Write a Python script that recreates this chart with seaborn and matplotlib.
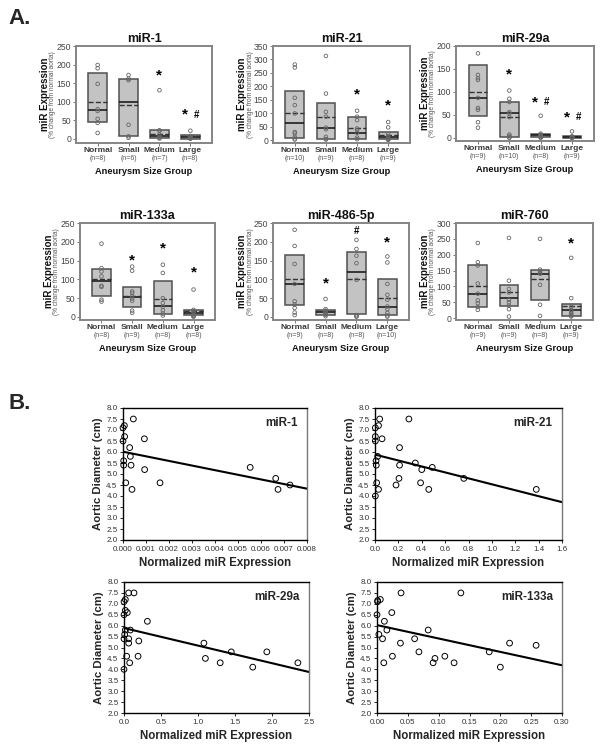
import numpy as np
import pandas as pd
import matplotlib
matplotlib.use("Agg")
import matplotlib.pyplot as plt
import matplotlib.transforms as mtransforms
import seaborn as sns

sns.set_style("ticks")
plt.rcParams["font.family"] = ["Liberation Sans", "DejaVu Sans"]

# ---------------- Panel A data ----------------
groups = ["Normal", "Small", "Medium", "Large"]

mir1_title = "miR-1"
mir1_points = [[199, 190, 148, 80, 75, 54, 43, 16],
               [172, 162, 158, 38, 7, 3],
               [131, 23, 22, 12, 6, 3, 1],
               [22, 8, 6, 4, 3, 2, 1, 1]]
mir1_q1 = [46, 7, 2, 1]
mir1_med = [77, 98, 7, 4]
mir1_q3 = [177, 161, 24, 10]
mir1_mean = [100, 90, 13, 7]
mir1_n = [8, 6, 7, 8]
mir1_marks = ["", "", "*", "*#"]
mir1_mark_y = [0, 0, 172, 65]
mir1_yticks = [0, 50, 100, 150, 200, 250]

mir21_title = "miR-21"
mir21_points = [[281, 270, 157, 130, 99, 30, 25, 12, 6, 2],
                [313, 173, 105, 87, 46, 40, 12, 4, 2],
                [109, 87, 74, 43, 37, 27, 9, 3],
                [67, 47, 22, 15, 10, 5, 3, 2, 1]]
mir21_q1 = [6, 5, 4, 5]
mir21_med = [62, 46, 27, 12]
mir21_q3 = [183, 139, 87, 30]
mir21_mean = [99, 87, 43, 19]
mir21_n = [10, 9, 8, 9]
mir21_marks = ["", "", "*", "*"]
mir21_mark_y = [0, 0, 171, 130]
mir21_yticks = [0, 50, 100, 150, 200, 250, 300, 350]

mir29a_title = "miR-29a"
mir29a_points = [[184, 137, 130, 126, 87, 65, 61, 34, 22],
                 [103, 85, 78, 56, 53, 45, 7, 4, 1, 0],
                 [48, 9, 7, 5, 4, 2, 1, 0],
                 [14, 3, 2, 2, 1, 1, 0, 0, 0]]
mir29a_q1 = [48, 2, 1, 0]
mir29a_med = [87, 54, 5, 1]
mir29a_q3 = [159, 79, 9, 3]
mir29a_mean = [100, 45, 7, 2]
mir29a_n = [9, 10, 8, 9]
mir29a_marks = ["", "*", "*#", "*#"]
mir29a_mark_y = [0, 137, 77, 45]
mir29a_yticks = [0, 50, 100, 150, 200]

mir133a_title = "miR-133a"
mir133a_points = [[195, 130, 121, 108, 83, 80, 46, 41],
                  [134, 123, 68, 64, 55, 49, 43, 17, 11],
                  [139, 117, 50, 37, 27, 18, 9, 4],
                  [73, 19, 15, 11, 6, 4, 2, 1]]
mir133a_q1 = [55, 27, 8, 4]
mir133a_med = [96, 53, 28, 11]
mir133a_q3 = [127, 81, 97, 19]
mir133a_mean = [101, 55, 47, 16]
mir133a_n = [8, 9, 8, 8]
mir133a_marks = ["", "*", "*", "*"]
mir133a_mark_y = [0, 150, 181, 119]
mir133a_yticks = [0, 50, 100, 150, 200, 250]

mir486_title = "miR-486-5p"
mir486_points = [[232, 189, 141, 88, 42, 33, 24, 12, 5],
                 [48, 21, 17, 14, 11, 8, 6, 2],
                 [205, 181, 163, 143, 99, 5, 2, 1],
                 [161, 145, 88, 59, 46, 28, 21, 11, 4, 1]]
mir486_q1 = [31, 5, 8, 4]
mir486_med = [88, 12, 121, 27]
mir486_q3 = [164, 19, 174, 102]
mir486_mean = [101, 15, 101, 50]
mir486_n = [9, 8, 8, 10]
mir486_marks = ["", "*", "#", "*"]
mir486_mark_y = [0, 88, 228, 198]
mir486_yticks = [0, 50, 100, 150, 200, 250]

mir760_title = "miR-760"
mir760_points = [[237, 176, 166, 109, 77, 56, 47, 35, 26],
                 [253, 118, 92, 81, 58, 50, 39, 28, 5],
                 [250, 153, 148, 142, 140, 105, 42, 7],
                 [190, 63, 35, 26, 21, 16, 11, 8, 5]]
mir760_q1 = [35, 37, 58, 8]
mir760_med = [77, 63, 140, 24]
mir760_q3 = [169, 103, 151, 45]
mir760_mean = [100, 82, 123, 37]
mir760_n = [9, 9, 8, 9]
mir760_marks = ["", "", "", "*"]
mir760_mark_y = [0, 0, 0, 237]
mir760_yticks = [0, 50, 100, 150, 200, 250, 300]

# ---------------- Panel B data ----------------
b1_label = "miR-1"
b1_x = [0.00006, 0.0, 0.00045, 0.00007, 0.0, 0.00093, 0.00029, 0.00032, 0.00003,
        0.00003, 0.00035, 0.00094, 0.00012, 0.00039, 0.00161, 0.00553, 0.00664,
        0.00674, 0.00726]
b1_y = [7.2, 7.1, 7.5, 6.7, 6.5, 6.6, 6.2, 5.8, 5.6, 5.4, 5.4, 5.2, 4.6, 4.3, 4.6,
        5.3, 4.8, 4.3, 4.5]
b1_xticks = [0.000, 0.001, 0.002, 0.003, 0.004, 0.005, 0.006, 0.007, 0.008]

b21_label = "miR-21"
b21_x = [0.04, 0.29, 0.03, 0.003, 0.003, 0.06, 0.003, 0.21, 0.023, 0.009, 0.011,
         0.21, 0.345, 0.40, 0.49, 0.205, 0.76, 0.014, 0.39, 0.18, 0.03, 0.46, 1.38,
         0.003]
b21_y = [7.5, 7.5, 7.2, 7.1, 6.7, 6.6, 6.5, 6.2, 5.8, 5.6, 5.4, 5.4, 5.5, 5.2, 5.3,
         4.8, 4.8, 4.6, 4.6, 4.5, 4.3, 4.3, 4.3, 4.0]
b21_xticks = [0.0, 0.2, 0.4, 0.6, 0.8, 1.0, 1.2, 1.4, 1.6]

b29_label = "miR-29a"
b29_x = [0.063, 0.135, 0.018, 0.0, 0.018, 0.045, 0.0, 0.316, 0.018, 0.086, 0.009,
         0.0, 0.063, 0.063, 0.20, 1.08, 0.036, 0.19, 1.10, 0.077, 1.30, 1.45, 1.74,
         1.93, 2.35, 0.0]
b29_y = [7.5, 7.5, 7.2, 7.1, 6.7, 6.6, 6.5, 6.2, 5.8, 5.8, 5.6, 5.4, 5.4, 5.2, 5.3,
         5.2, 4.6, 4.6, 4.5, 4.3, 4.3, 4.8, 4.1, 4.8, 4.3, 4.0]
b29_xticks = [0.0, 0.5, 1.0, 1.5, 2.0, 2.5]

b133_label = "miR-133a"
b133_x = [0.039, 0.136, 0.0054, 0.001, 0.001, 0.024, 0.0, 0.012, 0.016, 0.083,
          0.003, 0.009, 0.061, 0.038, 0.215, 0.258, 0.068, 0.182, 0.025, 0.11,
          0.094, 0.011, 0.091, 0.125, 0.20]
b133_y = [7.5, 7.5, 7.2, 7.15, 7.1, 6.6, 6.5, 6.2, 5.8, 5.8, 5.6, 5.4, 5.4, 5.2, 5.2,
          5.1, 4.8, 4.8, 4.6, 4.6, 4.5, 4.3, 4.3, 4.3, 4.1]
b133_xticks = [0.00, 0.05, 0.10, 0.15, 0.20, 0.25, 0.30]

B_YTICKS = [2.0, 2.5, 3.0, 3.5, 4.0, 4.5, 5.0, 5.5, 6.0, 6.5, 7.0, 7.5, 8.0]

# ---------------- Figure ----------------
W, H = 601, 750
fig = plt.figure(figsize=(W / 100, H / 100), dpi=100)


def px_axes(x0, x1, y0, y1):
    return fig.add_axes([x0 / W, 1 - y1 / H, (x1 - x0) / W, (y1 - y0) / H])


FRAME = "#858585"
TXT = "#3a3a3a"


def box_panel(ax, title, pts, q1, med, q3, mean, ns, marks, mark_y, yticks, ylim):
    stats = [dict(med=m, q1=a, q3=b, whislo=a, whishi=b, mean=mu, fliers=[])
             for a, m, b, mu in zip(q1, med, q3, mean)]
    ax.bxp(stats, positions=range(len(groups)), widths=0.6, patch_artist=True,
           showmeans=True, meanline=True, showcaps=False, manage_ticks=False,
           boxprops=dict(facecolor="#c3c3c3", edgecolor="#505050", linewidth=1.1),
           medianprops=dict(color="#111111", linewidth=1.1),
           meanprops=dict(color="#333333", linestyle="--", linewidth=1.0),
           whiskerprops=dict(linewidth=0))
    df = pd.DataFrame([(g, v) for g, vals in zip(groups, pts) for v in vals],
                      columns=["group", "value"])
    sns.stripplot(data=df, x="group", y="value", order=groups, jitter=False, ax=ax,
                  size=2.6, color="#666666", facecolor="none", edgecolor="#666666",
                  linewidth=0.6, zorder=5)
    ax.set_xlim(-0.7, 3.7)
    ax.set_ylim(*ylim)
    ax.set_yticks(yticks)
    ax.set_xticks(range(len(groups)))
    ax.set_xticklabels([])
    ax.set_xlabel("")
    ax.set_ylabel("")
    for s in ax.spines.values():
        s.set_visible(True)
        s.set_color(FRAME)
        s.set_linewidth(1.4)
    ax.tick_params(axis="both", length=2, width=0.7, color="#777777",
                   labelsize=6.2, labelcolor="#444444", pad=1.5)
    ax.set_title(title, fontsize=9, fontweight="bold", pad=3, color="#111111")
    trans = mtransforms.blended_transform_factory(ax.transData, ax.transAxes)
    hpx = ax.get_position().height * H
    wpx = ax.get_position().width * W
    for i, (g, n) in enumerate(zip(groups, ns)):
        ax.text(i, -7.5 / hpx, g, transform=trans, ha="center", va="center",
                fontsize=6.0, fontweight="bold", color=TXT)
        ax.text(i, -15.5 / hpx, f"(n={n})", transform=trans, ha="center",
                va="center", fontsize=5.0, color="#555555")
    ax.text(0.5, -28 / hpx, "Aneurysm Size Group", transform=ax.transAxes,
            ha="center", va="center", fontsize=6.7, fontweight="bold", color="#111111")
    ax.text(-31 / wpx, 0.5, "miR Expression", transform=ax.transAxes, rotation=90,
            ha="center", va="center", fontsize=7.0, fontweight="bold", color="#111111")
    ax.text(-23 / wpx, 0.5, "(% change from normal aorta)", transform=ax.transAxes,
            rotation=90, ha="center", va="center", fontsize=4.7, color="#555555")
    for i, (mk, my) in enumerate(zip(marks, mark_y)):
        if "*" in mk:
            dx = -0.17 if "#" in mk else 0.0
            ax.text(i + dx, my, "*", ha="center", va="center", fontsize=11,
                    fontweight="bold", color="black")
        if "#" in mk:
            dx = 0.2 if "*" in mk else 0.0
            ax.text(i + dx, my, "#", ha="center", va="center", fontsize=7,
                    fontweight="bold", color="black")


a_specs = [
    ((76, 212, 46, 143), mir1_title, mir1_points, mir1_q1, mir1_med, mir1_q3, mir1_mean,
     mir1_n, mir1_marks, mir1_mark_y, mir1_yticks, (-11, 250)),
    ((273, 410, 46, 143), mir21_title, mir21_points, mir21_q1, mir21_med, mir21_q3,
     mir21_mean, mir21_n, mir21_marks, mir21_mark_y, mir21_yticks, (-11, 350)),
    ((456, 594, 46, 141), mir29a_title, mir29a_points, mir29a_q1, mir29a_med, mir29a_q3,
     mir29a_mean, mir29a_n, mir29a_marks, mir29a_mark_y, mir29a_yticks, (-7, 200)),
    ((80, 215, 223, 320), mir133a_title, mir133a_points, mir133a_q1, mir133a_med,
     mir133a_q3, mir133a_mean, mir133a_n, mir133a_marks, mir133a_mark_y,
     mir133a_yticks, (-8, 250)),
    ((273, 409, 223, 320), mir486_title, mir486_points, mir486_q1, mir486_med,
     mir486_q3, mir486_mean, mir486_n, mir486_marks, mir486_mark_y, mir486_yticks,
     (-8, 250)),
    ((456, 593, 223, 320), mir760_title, mir760_points, mir760_q1, mir760_med,
     mir760_q3, mir760_mean, mir760_n, mir760_marks, mir760_mark_y, mir760_yticks,
     (-6, 300)),
]

for spec in a_specs:
    ax = px_axes(*spec[0])
    box_panel(ax, *spec[1:])


def scatter_panel(ax, x, y, label, xticks, fmt):
    xlim = (xticks[0], xticks[-1])
    ax.set_xlim(*xlim)
    ax.set_ylim(2.0, 8.0)
    sns.regplot(x=np.array(x), y=np.array(y), ax=ax, ci=None, truncate=False,
                scatter_kws=dict(s=17, facecolors="none", edgecolors="black",
                                 linewidths=0.7, alpha=1, clip_on=False, zorder=4),
                line_kws=dict(color="black", linewidth=1.5))
    ax.set_xlim(*xlim)
    ax.set_ylim(2.0, 8.0)
    ax.set_xticks(xticks)
    ax.set_xticklabels([fmt.format(v) for v in xticks])
    ax.set_yticks(B_YTICKS)
    ax.set_yticklabels([f"{v:.1f}" for v in B_YTICKS])
    for s in ax.spines.values():
        s.set_visible(True)
        s.set_color("black")
        s.set_linewidth(1.0)
    ax.spines["right"].set_color("#777777")
    ax.tick_params(axis="both", length=2.5, width=0.7, labelsize=5.8,
                   labelcolor="#333333", pad=1.5)
    ax.set_xlabel("Normalized miR Expression", fontsize=8.3, fontweight="bold",
                  labelpad=3)
    ax.set_ylabel("Aortic Diameter (cm)", fontsize=8.2, fontweight="bold", labelpad=2)
    ax.text(0.95, 0.885, label, transform=ax.transAxes, ha="right", va="center",
            fontsize=8.4, fontweight="bold")


b_specs = [
    ((123, 307, 408, 540), b1_x, b1_y, b1_label, b1_xticks, "{:.3f}"),
    ((375, 562, 408, 540), b21_x, b21_y, b21_label, b21_xticks, "{:.1f}"),
    ((124, 309, 582, 713), b29_x, b29_y, b29_label, b29_xticks, "{:.1f}"),
    ((377, 562, 582, 713), b133_x, b133_y, b133_label, b133_xticks, "{:.2f}"),
]
for spec in b_specs:
    ax = px_axes(*spec[0])
    scatter_panel(ax, *spec[1:])

fig.text(8 / W, 1 - 19 / H, "A.", fontsize=16, fontweight="bold", va="center",
         ha="left")
fig.text(8 / W, 1 - 404 / H, "B.", fontsize=16, fontweight="bold", va="center",
         ha="left")

fig.savefig("out.png", dpi=100)
